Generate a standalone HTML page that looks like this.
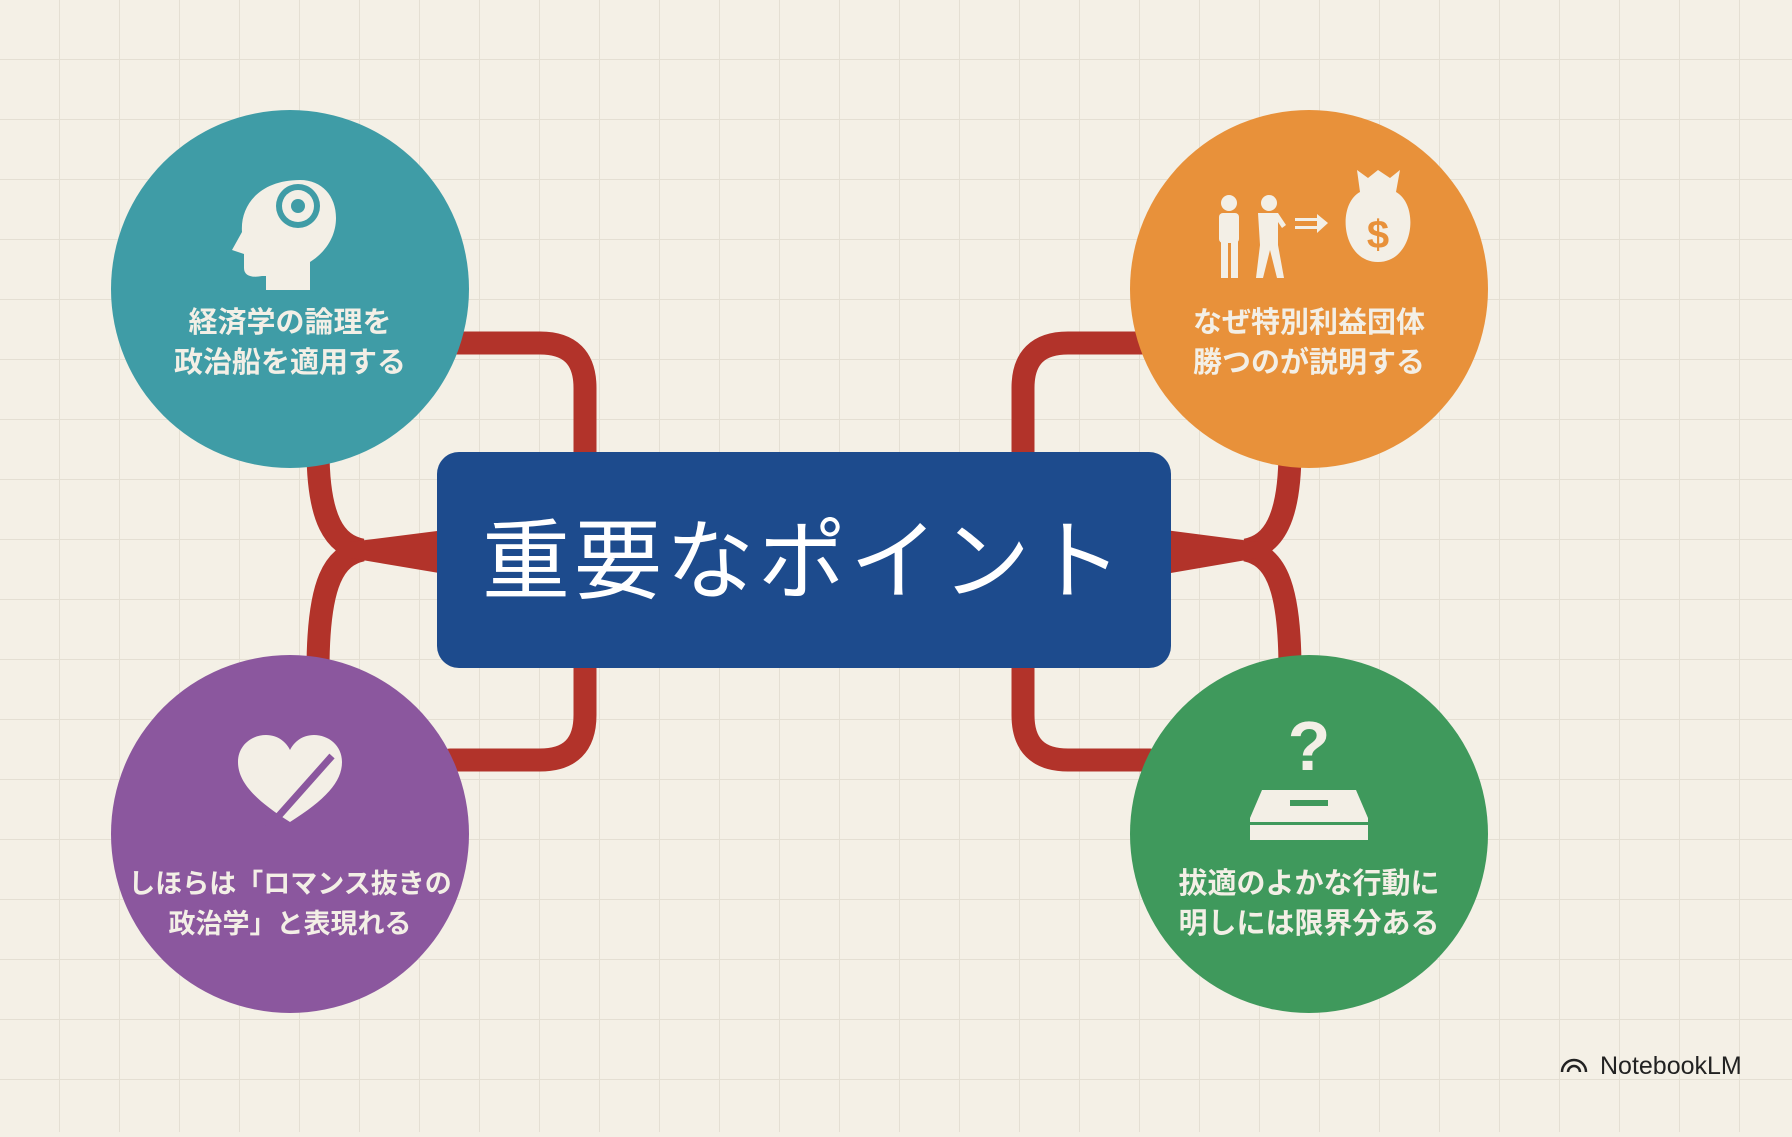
<!DOCTYPE html>
<html><head><meta charset="utf-8"><style>
body{margin:0;width:1792px;height:1132px;overflow:hidden;background:#f4f0e6;font-family:"Liberation Sans","Noto Sans CJK JP",sans-serif;}
</style></head><body>
<svg width="1792" height="1132" xmlns="http://www.w3.org/2000/svg">
<defs><pattern id="g" width="60" height="60" patternUnits="userSpaceOnUse" x="0" y="0">
<path d="M60 0V60M0 60H60" stroke="#e4dfd3" stroke-width="2" fill="none"/></pattern></defs>
<rect width="1792" height="1132" fill="#f4f0e6"/>
<rect width="1792" height="1132" fill="url(#g)"/>
<g fill="none" stroke="#b2332a" stroke-width="23" stroke-linecap="round">
<path d="M450 343 H540 Q585 343 585 388 V460"/>
<path d="M585 660 V715 Q585 760 540 760 H450"/>
<path d="M318 450 C318 520 335 545 362 550 C335 556 318 580 318 670"/>
<path d="M1150 343 H1068 Q1023 343 1023 388 V460"/>
<path d="M1023 660 V715 Q1023 760 1068 760 H1150"/>
<path d="M1290 450 C1290 520 1273 545 1246 550 C1273 556 1290 580 1290 670"/>
</g>
<polygon points="350,542 445,530 445,574 350,558" fill="#b2332a"/>
<polygon points="1258,542 1165,530 1165,574 1258,558" fill="#b2332a"/>
<rect x="437" y="452" width="734" height="216" rx="22" fill="#1d4b8d"/>
<text x="804" y="592" text-anchor="middle" font-size="88" fill="#fff" font-family="Liberation Sans,Noto Sans CJK JP,sans-serif" letter-spacing="4">重要なポイント</text>
<circle cx="290" cy="289" r="179" fill="#3f9ca6"/>
<circle cx="1309" cy="289" r="179" fill="#e8913a"/>
<circle cx="290" cy="834" r="179" fill="#8b579e"/>
<circle cx="1309" cy="834" r="179" fill="#3f995c"/>
<g fill="#f3efe6" font-size="29" text-anchor="middle" font-family="Liberation Sans,Noto Sans CJK JP,sans-serif" font-weight="bold">
<text x="290" y="332">経済学の論理を</text><text x="290" y="372">政治船を適用する</text>
<text x="1309" y="332">なぜ特別利益団体</text><text x="1309" y="372">勝つのが説明する</text>
<text x="290" y="893" font-size="27">しほらは「ロマンス抜きの</text><text x="290" y="933" font-size="27">政治学」と表現れる</text>
<text x="1309" y="893">拔適のよかな行動に</text><text x="1309" y="933">明しには限界分ある</text>
</g>
<g fill="#f3efe6">
<path d="M300 180 C260 180 240 205 242 232 L232 250 L244 254 L244 268 C244 276 252 278 262 276 L266 276 L266 290 L310 290 L310 262 C326 252 336 236 336 218 C336 196 322 180 300 180Z"/>
<circle cx="298" cy="206" r="22" fill="#3f9ca6"/>
<circle cx="298" cy="206" r="16"/><circle cx="298" cy="206" r="7" fill="#3f9ca6"/>
</g>
<g fill="#f3efe6">
<circle cx="1229" cy="203" r="8"/><rect x="1219" y="213" width="20" height="30" rx="4"/><rect x="1221" y="240" width="7" height="38"/><rect x="1231" y="240" width="7" height="38"/>
<circle cx="1269" cy="203" r="8"/><path d="M1258 213 H1278 L1286 225 L1282 228 L1278 222 V245 L1284 278 H1277 L1270 250 L1263 278 H1256 L1260 245 Z"/>
<rect x="1295" y="218" width="22" height="3"/><rect x="1295" y="226" width="22" height="3"/><polygon points="1317,214 1328,223 1317,233"/>
<path d="M1357 170 L1368 178 L1378 170 L1390 178 L1400 170 L1396 192 C1420 205 1414 262 1378 262 C1342 262 1336 205 1360 192Z"/>
</g>
<text x="1378" y="248" text-anchor="middle" font-size="40" font-weight="bold" fill="#e8913a">$</text>
<path d="M290 822 C255 800 238 782 238 762 C238 745 252 735 266 735 C278 735 286 742 290 750 C294 742 302 735 314 735 C328 735 342 745 342 762 C342 782 325 800 290 822Z" fill="#f3efe6"/>
<line x1="268" y1="828" x2="332" y2="756" stroke="#8b579e" stroke-width="7"/>
<text x="1309" y="770" text-anchor="middle" font-size="70" font-weight="bold" fill="#f3efe6">?</text>
<path d="M1262 790 H1356 L1368 818 V840 H1250 V818Z" fill="#f3efe6"/>
<rect x="1290" y="800" width="38" height="6" fill="#3f995c"/>
<rect x="1250" y="822" width="118" height="3" fill="#3f995c"/>
<g transform="translate(1560,1052)" fill="none" stroke="#222" stroke-width="2.5">
<path d="M2 20 A12 12 0 0 1 26 20"/><path d="M8 20 A6 6 0 0 1 20 20"/>
</g>
<text x="1600" y="1074" font-size="25" fill="#222">NotebookLM</text>
</svg>
</body></html>
